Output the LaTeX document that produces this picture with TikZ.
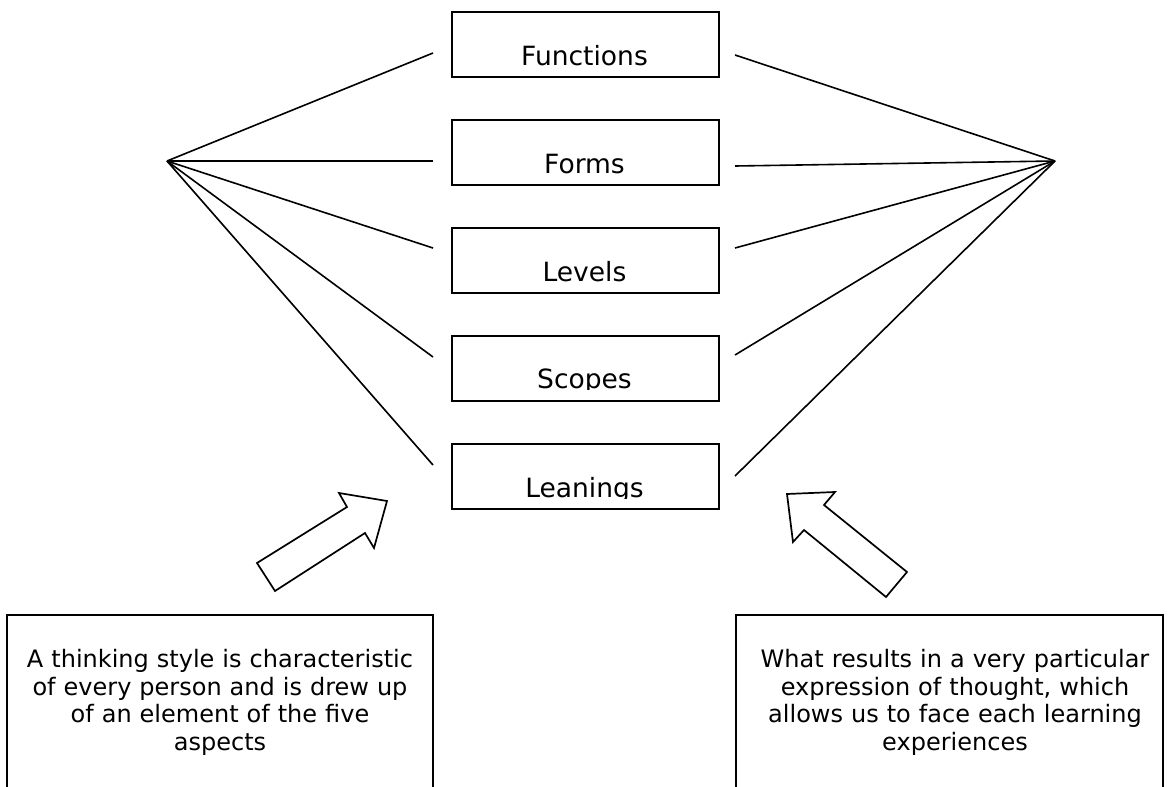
\documentclass[tikz,border=0pt]{standalone}
\usepackage{fontspec}
\setmainfont{DejaVu Sans}
\begin{document}
\begin{tikzpicture}[x=1pt,y=-1pt,
  topbox/.style={draw, line width=1.8pt, anchor=north west, minimum width=267pt, minimum height=65pt, inner sep=0pt},
  toptext/.style={anchor=base, inner sep=0pt, font=\fontsize{26.5}{31}\selectfont},
  link/.style={line width=1.6pt},
  infobox/.style={draw, line width=1.8pt},
  infotext/.style={anchor=north, inner sep=0pt, text width=440pt, align=center, font=\fontsize{24}{27.7}\selectfont},
  bigarrow/.style={draw, line width=1.7pt, line join=miter, fill=white}
]
\useasboundingbox (0,0) rectangle (1170,787);
\begin{scope}
\clip (0,0) rectangle (1170,787);
% top boxes
\node[topbox] (fun) at (451,11) {};
\node[topbox] (frm) at (451,119) {};
\node[topbox] (lev) at (451,227) {};
\node[topbox] (scp) at (451,335) {};
\node[topbox] (lea) at (451,443) {};
\begin{scope}\clip (451,11) rectangle (718,66);
\node[toptext] (funt) at (584.5,65) {Functions};\end{scope}
\begin{scope}\clip (451,119) rectangle (718,174);
\node[toptext] (frmt) at (584.5,173) {Forms};\end{scope}
\begin{scope}\clip (451,227) rectangle (718,282);
\node[toptext] (levt) at (584.5,281) {Levels};\end{scope}
\begin{scope}\clip (451,335) rectangle (718,389);
\node[toptext] (scpt) at (584.5,388) {Scopes};\end{scope}
\begin{scope}\clip (451,443) rectangle (718,498);
\node[toptext] (leat) at (584.5,497) {Leanings};\end{scope}
% apexes and line ends
\coordinate (L) at (167,161);
\coordinate (R) at (1055,161);
\coordinate (l1) at (433,53);
\coordinate (l2) at (433,161);
\coordinate (l3) at (433,248);
\coordinate (l4) at (433,357);
\coordinate (l5) at (433,465);
\coordinate (r1) at (735,55);
\coordinate (r2) at (735,166);
\coordinate (r3) at (735,248);
\coordinate (r4) at (735,355);
\coordinate (r5) at (735,476);
\foreach \i in {1,...,5}{
  \draw[link] (L) -- (l\i);
  \draw[link] (R) -- (r\i);
}
% block arrows
\draw[bigarrow] (257,563) -- (347,507) -- (339,493) -- (387,501) -- (374,548) -- (365,533) -- (275,591) -- cycle;
\draw[bigarrow] (787,494) -- (835,492) -- (824,505) -- (907,572) -- (886,597) -- (804,530) -- (793,542) -- cycle;
% bottom boxes
\draw[infobox] (7,615) rectangle (433,800);
\draw[infobox] (736,615) rectangle (1163,800);
\node[infotext] (lt) at (220,649) {A thinking style is characteristic\\ of every person and is drew up\\ of an element of the five\\ aspects};
\node[infotext] (rt) at (955,649) {What results in a very particular\\ expression of thought, which\\ allows us to face each learning\\ experiences};
\end{scope}
\end{tikzpicture}
\end{document}
